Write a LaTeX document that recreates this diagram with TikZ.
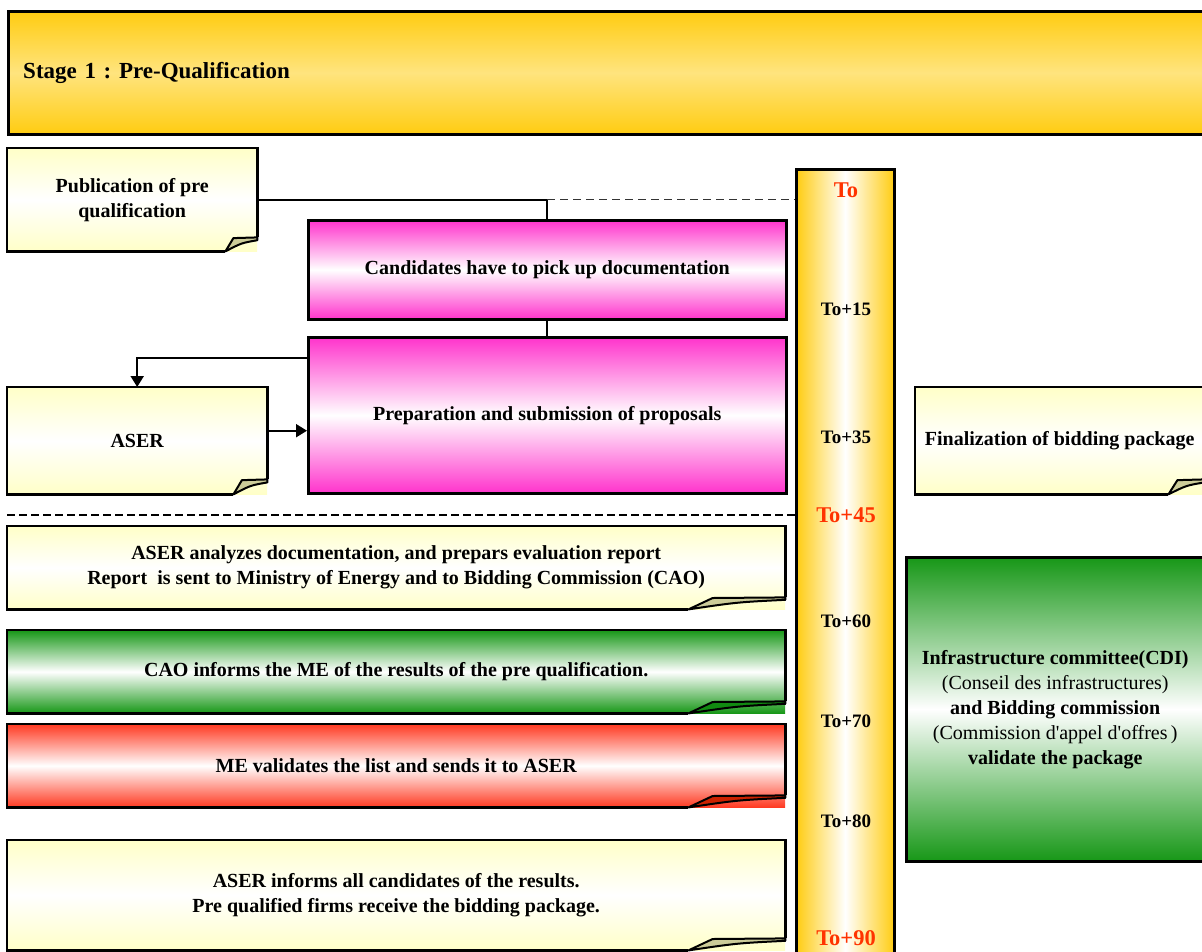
\documentclass[tikz,border=0pt]{standalone}
\usepackage{fontspec}
\setmainfont{Liberation Serif}
\usepackage{tikz}
\usetikzlibrary{arrows.meta, positioning, calc}
\usepackage{xcolor}
\definecolor{noteyellow}{HTML}{FFFFC8}
\definecolor{foldgray}{HTML}{CCCC99}
\definecolor{pinkstage}{HTML}{FF33CC}
\definecolor{greenstage}{HTML}{179717}
\definecolor{greenfold}{HTML}{118A11}
\definecolor{redstage}{HTML}{FF3A22}
\definecolor{redfold}{HTML}{CC2200}
\definecolor{goldstage}{HTML}{FFCC11}
\definecolor{goldlight}{HTML}{FFE47E}
\definecolor{datered}{HTML}{FF3300}

\tikzset{
  base/.style={rectangle, inner sep=0pt, align=center, anchor=north west,
               font=\fontsize{20}{25}\selectfont\bfseries},
  note/.style={base, top color=noteyellow, bottom color=noteyellow, middle color=white},
  greennote/.style={base, top color=greenstage, bottom color=greenstage, middle color=white},
  rednote/.style={base, top color=redstage, bottom color=redstage, middle color=white},
  pinkbox/.style={base, draw, line width=2.5pt, top color=pinkstage, bottom color=pinkstage, middle color=white},
  headbox/.style={base, draw, line width=2.5pt, top color=goldstage, bottom color=goldstage,
                  middle color=goldlight, align=left, inner xsep=15pt, text width=1183pt,
                  font=\fontsize{23}{28}\selectfont\bfseries},
  timebar/.style={base, draw, line width=2.5pt, left color=goldstage, right color=goldstage, middle color=white},
  datelbl/.style={font=\fontsize{19}{22}\selectfont\bfseries},
  datekey/.style={font=\fontsize{22.5}{26}\selectfont\bfseries, text=datered},
  conn/.style={line width=2pt},
  arr/.style={line width=2pt, -{Triangle[length=11pt,width=13pt]}},
}

% outline with a curled corner: node, fold width, fold height, fold colour
\newcommand{\curl}[4]{%
  \draw[line width=2.5pt] ($(#1.south east)+(0,#3)$) -- (#1.north east) -- (#1.north west)
    -- (#1.south west) -- ($(#1.south east)+(-#2,0)$);
  \draw[line width=2pt, fill=#4, line join=round] ($(#1.south east)+(0,#3)$)
    -- ($(#1.south east)+(-0.75*#2,0.95*#3)$) -- ($(#1.south east)+(-#2,0)$)
    .. controls ($(#1.south east)+(-0.5*#2,0.6*#3)$) .. ($(#1.south east)+(0,0.8*#3)$) -- cycle;
}

\begin{document}
\frenchspacing
\begin{tikzpicture}[x=1pt, y=1pt]
\path[use as bounding box] (0,0) rectangle (1202,-951);
\clip (0,0) rectangle (1202,-951);

% stage header
\node[headbox, minimum height=123pt] (head) at (7,-10) {Stage 1 : Pre-Qualification};

% time line
\node[timebar, minimum width=98pt, minimum height=840pt] (line) at (795,-168) {};

% first steps
\node[note, minimum width=250pt, minimum height=103pt] (pub) at (7,-148) {Publication of pre\\qualification};
\curl{pub}{32}{14}{foldgray}
\node[pinkbox, minimum width=478pt, minimum height=99pt] (cand) at (307,-219) {Candidates have to pick up documentation};
\node[pinkbox, minimum width=478pt, minimum height=156pt] (prep) at (307,-336) {Preparation and submission of proposals};
\node[note, minimum width=260pt, minimum height=107pt] (aser) at (7,-387) {ASER};
\curl{aser}{34}{15}{foldgray}

\draw[conn] (pub.east) -| (cand.north);
\draw[line width=1.2pt, dash pattern=on 8pt off 5pt, black!80] (cand.north |- pub.east) -- (line.west |- pub.east);
\draw[conn] (cand) -- (prep);
\draw[arr] ([yshift=-22pt]prep.north west) -| (aser.north);
\draw[arr] ([yshift=10pt]aser.east) -- ([yshift=10pt]aser.east -| prep.west);

% end of submissions
\coordinate (split) at (7,-515);
\draw[line width=1.5pt, dash pattern=on 8pt off 4pt] (split) -- (split -| line.west);

% evaluation steps
\node[note, minimum width=778pt, minimum height=83pt] (anal) at (7,-526) {ASER analyzes documentation, and prepars evaluation report\\Report\ \ is sent to Ministry of Energy and to Bidding Commission (CAO)};
\curl{anal}{97}{12}{foldgray}
\node[greennote, minimum width=778pt, minimum height=83pt] (cao) at (7,-630) {CAO informs the ME of the results of the pre qualification.};
\curl{cao}{97}{12}{greenfold}
\node[rednote, minimum width=778pt, minimum height=83pt] (me) at (7,-724) {ME validates the list and sends it to ASER};
\curl{me}{97}{12}{redfold}
\node[note, minimum width=778pt, minimum height=110pt] (inform) at (7,-840) {ASER informs all candidates of the results.\\Pre qualified firms receive the bidding package.};
\curl{inform}{97}{12}{foldgray}

% right column
\node[note, minimum width=289pt, minimum height=107pt] (final) at (915,-387) {Finalization of bidding package};
\curl{final}{36}{15}{foldgray}
\node[greennote, draw, line width=2.5pt, minimum width=298pt, minimum height=304pt] (cdi) at (905,-556)
  {Infrastructure committee(CDI)\\
   {\mdseries (Conseil des infrastructures)}\\
   and Bidding commission\\
   {\mdseries (Commission d\textquotesingle appel d\textquotesingle offres\,)}\\
   validate the package};

% dates
\node[datekey] (t0) at (846,-190) {To};
\node[datelbl] (t15) at (846,-309) {To+15};
\node[datelbl] (t35) at (846,-437) {To+35};
\node[datekey] (t45) at (846,-515) {To+45};
\node[datelbl] (t60) at (846,-621) {To+60};
\node[datelbl] (t70) at (846,-721) {To+70};
\node[datelbl] (t80) at (846,-821) {To+80};
\node[datekey] (t90) at (846,-938) {To+90};
\end{tikzpicture}
\end{document}
